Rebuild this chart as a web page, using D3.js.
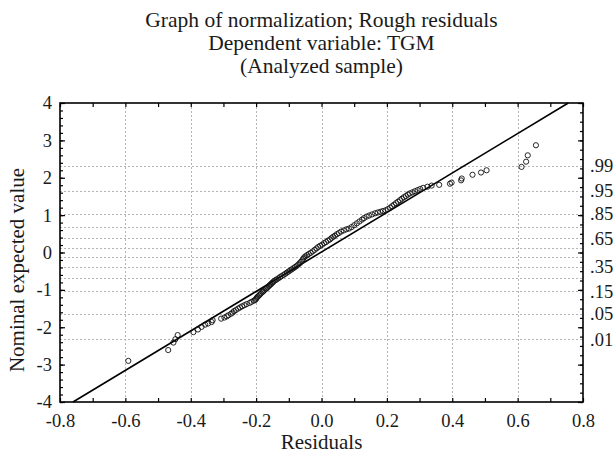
<!DOCTYPE html>
<html>
<head>
<meta charset="utf-8">
<script src="https://cdn.jsdelivr.net/npm/d3@7/dist/d3.min.js"></script>
<style>
  body { margin: 0; background: #fff; }
</style>
</head>
<body>
<div id="chart"></div>
<script>
// title lines
var titleLines = ["Graph of normalization; Rough residuals", "Dependent variable: TGM", "(Analyzed sample)"];

// axis ticks
var xTicks = [-0.8, -0.6, -0.4, -0.2, 0.0, 0.2, 0.4, 0.6, 0.8];
var yTicks = [-4, -3, -2, -1, 0, 1, 2, 3, 4];

// probability grid (right axis); only some get a label
var probGrid = [0.01, 0.05, 0.15, 0.25, 0.35, 0.45, 0.55, 0.65, 0.75, 0.85, 0.95, 0.99];
var probLabels = [".01", ".05", ".15", ".35", ".65", ".85", ".95", ".99"];
var probLabelValues = [0.01, 0.05, 0.15, 0.35, 0.65, 0.85, 0.95, 0.99];

// residuals (x) and their nominal expected normal values (y)
var residuals = [
  -0.591, -0.469, -0.453, -0.447, -0.440, -0.392, -0.378, -0.367, -0.356, -0.347,
  -0.336, -0.333, -0.307, -0.297, -0.290, -0.285, -0.277, -0.272, -0.268, -0.262,
  -0.255, -0.249, -0.243, -0.236, -0.229, -0.220, -0.214, -0.207, -0.203, -0.200,
  -0.198, -0.195, -0.191, -0.188, -0.185, -0.181, -0.178, -0.175, -0.171, -0.168,
  -0.165, -0.161, -0.158, -0.155, -0.152, -0.149, -0.146, -0.141, -0.137, -0.132,
  -0.127, -0.122, -0.116, -0.111, -0.106, -0.101, -0.096, -0.091, -0.086, -0.081,
  -0.076, -0.071, -0.067, -0.063, -0.059, -0.056, -0.053, -0.049, -0.044, -0.039,
  -0.033, -0.027, -0.021, -0.015, -0.010, -0.004, 0.002, 0.008, 0.014, 0.020,
  0.026, 0.031, 0.036, 0.041, 0.047, 0.053, 0.060, 0.068, 0.076, 0.084,
  0.092, 0.100, 0.108, 0.116, 0.124, 0.130, 0.138, 0.146, 0.155, 0.164,
  0.172, 0.180, 0.188, 0.196, 0.203, 0.210, 0.216, 0.222, 0.228, 0.234,
  0.240, 0.246, 0.252, 0.258, 0.264, 0.270, 0.278, 0.286, 0.294, 0.302,
  0.311, 0.324, 0.337, 0.360, 0.393, 0.398, 0.427, 0.429, 0.462, 0.488,
  0.505, 0.612, 0.626, 0.631, 0.656
];
var expected = [
  -2.90, -2.61, -2.41, -2.32, -2.21, -2.13, -2.06, -1.99, -1.93, -1.90,
  -1.86, -1.81, -1.77, -1.74, -1.71, -1.68, -1.64, -1.61, -1.57, -1.54,
  -1.50, -1.47, -1.44, -1.41, -1.38, -1.35, -1.32, -1.29, -1.27, -1.24,
  -1.21, -1.18, -1.15, -1.12, -1.09, -1.06, -1.04, -1.01, -0.98, -0.96,
  -0.93, -0.90, -0.87, -0.85, -0.82, -0.80, -0.77, -0.74, -0.72, -0.69,
  -0.66, -0.63, -0.60, -0.57, -0.54, -0.51, -0.48, -0.45, -0.42, -0.39,
  -0.36, -0.32, -0.29, -0.25, -0.21, -0.17, -0.13, -0.10, -0.07, -0.04,
  -0.01, 0.03, 0.07, 0.11, 0.15, 0.18, 0.21, 0.25, 0.28, 0.32,
  0.35, 0.39, 0.42, 0.45, 0.49, 0.52, 0.56, 0.59, 0.62, 0.64,
  0.68, 0.73, 0.78, 0.83, 0.88, 0.92, 0.96, 0.99, 1.02, 1.05,
  1.07, 1.09, 1.11, 1.13, 1.16, 1.20, 1.24, 1.28, 1.32, 1.36,
  1.40, 1.44, 1.48, 1.51, 1.55, 1.58, 1.61, 1.64, 1.67, 1.70,
  1.73, 1.76, 1.79, 1.81, 1.84, 1.87, 1.93, 1.98, 2.08, 2.14,
  2.20, 2.29, 2.43, 2.60, 2.87
];

// fitted reference line: expected = intercept + slope * residual
var fitIntercept = 0.014;
var fitSlope = 5.28;

var serif = "'Liberation Serif', 'Times New Roman', Times, serif";
var width = 614, height = 455;
var margin = {top: 103, right: 31, bottom: 53, left: 60};

var svg = d3.select("#chart").append("svg")
    .attr("width", width)
    .attr("height", height);

var x = d3.scaleLinear().domain([-0.8, 0.8]).range([margin.left, width - margin.right]);
var y = d3.scaleLinear().domain([-4, 4]).range([height - margin.bottom, margin.top]);

// inverse normal cdf (Acklam) for the probability grid
function normInv(p) {
    var a = [-39.6968302866538, 220.946098424521, -275.928510446969, 138.357751867269, -30.6647980661472, 2.50662827745924],
        b = [-54.4760987982241, 161.585836858041, -155.698979859887, 66.8013118877197, -13.2806815528857],
        c = [-0.00778489400243029, -0.322396458041136, -2.40075827716184, -2.54973253934373, 4.37466414146497, 2.93816398269878],
        d = [0.00778469570904146, 0.32246712907004, 2.445134137143, 3.75440866190742];
    var q, r;
    if (p < 0.02425) {
        q = Math.sqrt(-2 * Math.log(p));
        return (((((c[0]*q+c[1])*q+c[2])*q+c[3])*q+c[4])*q+c[5]) / ((((d[0]*q+d[1])*q+d[2])*q+d[3])*q+1);
    } else if (p > 1 - 0.02425) {
        q = Math.sqrt(-2 * Math.log(1 - p));
        return -(((((c[0]*q+c[1])*q+c[2])*q+c[3])*q+c[4])*q+c[5]) / ((((d[0]*q+d[1])*q+d[2])*q+d[3])*q+1);
    }
    q = p - 0.5; r = q * q;
    return (((((a[0]*r+a[1])*r+a[2])*r+a[3])*r+a[4])*r+a[5])*q / (((((b[0]*r+b[1])*r+b[2])*r+b[3])*r+b[4])*r+1);
}

var grid = svg.append("g")
    .attr("stroke", "#b5b5b5")
    .attr("stroke-width", 1)
    .attr("stroke-dasharray", "2,2");

// vertical grid at inner x ticks
grid.selectAll("line.vx")
    .data(xTicks.slice(1, -1))
    .enter().append("line")
    .attr("class", "vx")
    .attr("x1", function(d) { return Math.round(x(d)) + 0.5; })
    .attr("x2", function(d) { return Math.round(x(d)) + 0.5; })
    .attr("y1", y(4))
    .attr("y2", y(-4));

// horizontal grid at probability levels
grid.selectAll("line.hp")
    .data(probGrid)
    .enter().append("line")
    .attr("class", "hp")
    .attr("x1", x(-0.8))
    .attr("x2", x(0.8))
    .attr("y1", function(d) { return Math.round(y(normInv(d))) + 0.5; })
    .attr("y2", function(d) { return Math.round(y(normInv(d))) + 0.5; });

// ticks (inside the frame)
var xMinor = d3.range(-8, 9).map(function(i) { return i / 10; });
var yMinorL = d3.range(-20, 21).map(function(i) { return i / 5; });
var yMinorR = d3.range(-16, 17).map(function(i) { return i / 4; });

function tickAxis(axis, tr) {
    var g = svg.append("g").attr("transform", tr).call(axis);
    g.select(".domain").remove();
    g.selectAll("line").attr("stroke", "#000").attr("stroke-width", 1.2);
    return g;
}

tickAxis(d3.axisBottom(x).tickValues(xMinor).tickSize(-4).tickFormat(""), "translate(0," + y(-4) + ")");
tickAxis(d3.axisTop(x).tickValues(xMinor).tickSize(-4).tickFormat(""), "translate(0," + y(4) + ")");
tickAxis(d3.axisLeft(y).tickValues(yMinorL).tickSize(-3).tickFormat(""), "translate(" + x(-0.8) + ",0)");
tickAxis(d3.axisLeft(y).tickValues(yTicks).tickSize(-5).tickFormat(""), "translate(" + x(-0.8) + ",0)");
tickAxis(d3.axisRight(y).tickValues(yMinorR).tickSize(-3).tickFormat(""), "translate(" + x(0.8) + ",0)");
tickAxis(d3.axisRight(y).tickValues(yTicks).tickSize(-5).tickFormat(""), "translate(" + x(0.8) + ",0)");

// tick labels
var xLab = svg.append("g")
    .attr("transform", "translate(0," + y(-4) + ")")
    .call(d3.axisBottom(x).tickValues(xTicks).tickSize(0).tickPadding(12)
        .tickFormat(function(d) { return d.toFixed(1); }));
xLab.select(".domain").remove();
xLab.attr("font-family", serif).attr("font-size", 18.5);
xLab.selectAll("text").style("font-family", serif).attr("fill", "#1a1a1a");

var yLab = svg.append("g")
    .attr("transform", "translate(" + x(-0.8) + ",0)")
    .call(d3.axisLeft(y).tickValues(yTicks).tickSize(0).tickPadding(8)
        .tickFormat(function(d) { return String(d); }));
yLab.select(".domain").remove();
yLab.attr("font-family", serif).attr("font-size", 18.5);
yLab.selectAll("text").style("font-family", serif).attr("fill", "#1a1a1a");

svg.append("g").selectAll("text")
    .data(probLabelValues)
    .enter().append("text")
    .attr("x", x(0.8) + 7)
    .attr("y", function(d) { return y(normInv(d)); })
    .attr("dy", "0.35em")
    .style("font-family", serif)
    .style("font-size", "18.5px")
    .attr("fill", "#1a1a1a")
    .text(function(d, i) { return probLabels[i]; });

// fitted line, clipped to the frame
var lineX0 = (-4 - fitIntercept) / fitSlope;
var lineX1 = (4 - fitIntercept) / fitSlope;
svg.append("line")
    .attr("x1", x(lineX0)).attr("y1", y(fitIntercept + fitSlope * lineX0))
    .attr("x2", x(lineX1)).attr("y2", y(fitIntercept + fitSlope * lineX1))
    .attr("stroke", "#000")
    .attr("stroke-width", 1.6);

// points
svg.append("g").selectAll("circle")
    .data(residuals)
    .enter().append("circle")
    .attr("cx", function(d) { return x(d); })
    .attr("cy", function(d, i) { return y(expected[i]); })
    .attr("r", 2.6)
    .attr("fill", "none")
    .attr("stroke", "#111")
    .attr("stroke-width", 0.9);

// frame
svg.append("rect")
    .attr("x", x(-0.8))
    .attr("y", y(4))
    .attr("width", x(0.8) - x(-0.8))
    .attr("height", y(-4) - y(4))
    .attr("fill", "none")
    .attr("stroke", "#000")
    .attr("stroke-width", 1.6);

// titles
svg.append("g").selectAll("text")
    .data(titleLines)
    .enter().append("text")
    .attr("x", (x(-0.8) + x(0.8)) / 2)
    .attr("y", function(d, i) { return 27 + i * 23; })
    .attr("text-anchor", "middle")
    .style("font-family", serif)
    .style("font-size", "21.5px")
    .attr("fill", "#1a1a1a")
    .text(function(d) { return d; });

svg.append("text")
    .attr("x", (x(-0.8) + x(0.8)) / 2)
    .attr("y", 449)
    .attr("text-anchor", "middle")
    .style("font-family", serif)
    .style("font-size", "21px")
    .attr("fill", "#1a1a1a")
    .text("Residuals");

svg.append("text")
    .attr("transform", "translate(24,270) rotate(-90)")
    .attr("text-anchor", "middle")
    .style("font-family", serif)
    .style("font-size", "21px")
    .attr("fill", "#1a1a1a")
    .text("Nominal expected value");
</script>
</body>
</html>
